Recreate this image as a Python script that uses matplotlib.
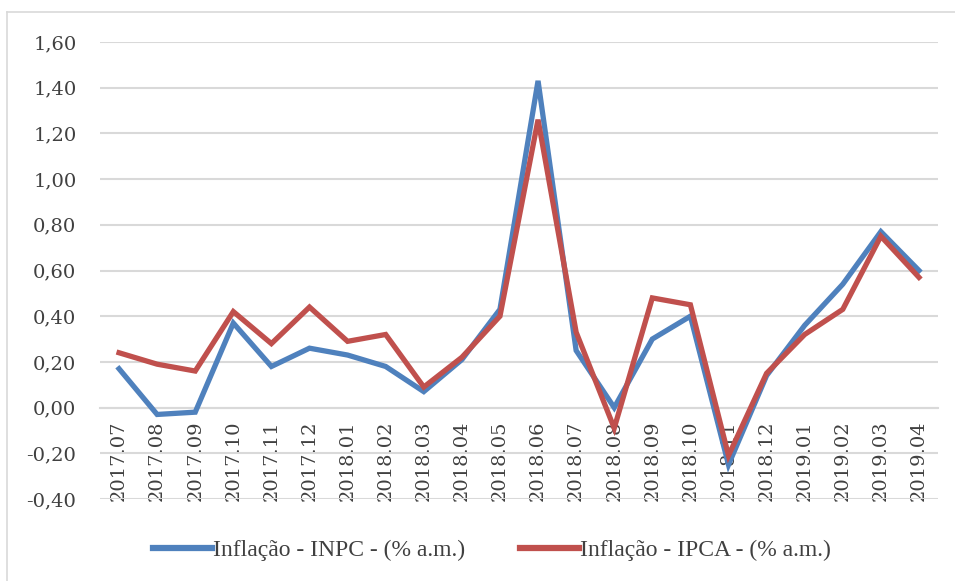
import numpy as np
import matplotlib.pyplot as plt
from matplotlib.lines import Line2D

meses = ['2017.07', '2017.08', '2017.09', '2017.10', '2017.11', '2017.12',
         '2018.01', '2018.02', '2018.03', '2018.04', '2018.05', '2018.06',
         '2018.07', '2018.08', '2018.09', '2018.10', '2018.11', '2018.12',
         '2019.01', '2019.02', '2019.03', '2019.04']
inpc = [0.17, -0.03, -0.02, 0.37, 0.18, 0.26, 0.23, 0.18, 0.07, 0.21, 0.43,
        1.43, 0.25, 0.00, 0.30, 0.40, -0.25, 0.14, 0.36, 0.54, 0.77, 0.60]
ipca = [0.24, 0.19, 0.16, 0.42, 0.28, 0.44, 0.29, 0.32, 0.09, 0.22, 0.40,
        1.26, 0.33, -0.09, 0.48, 0.45, -0.21, 0.15, 0.32, 0.43, 0.75, 0.57]
yticks = [-0.4, -0.2, 0.0, 0.2, 0.4, 0.6, 0.8, 1.0, 1.2, 1.4, 1.6]

plt.rcParams['font.family'] = ['DejaVu Serif']

fig = plt.figure(figsize=(9.55, 5.81), dpi=100)
ax = fig.add_axes([100 / 955, 1 - 499 / 581, 838 / 955, 457 / 581])

x = np.arange(len(meses))
ax.plot(x, inpc, color='#4F81BD', lw=3.8, label='Inflação - INPC - (% a.m.)',
        solid_joinstyle='miter', zorder=3)
ax.plot(x, ipca, color='#C0504D', lw=3.8, label='Inflação - IPCA - (% a.m.)',
        solid_joinstyle='miter', zorder=4)

ax.set_xlim(-0.5, len(meses) - 0.5)
ax.set_ylim(-0.4, 1.6)
ax.set_yticks(yticks)
ax.set_yticklabels([f'{v:.2f}'.replace('.', ',') for v in yticks],
                   fontsize=14, color='#404040')
ax.yaxis.grid(True, color='#D9D9D9', lw=1.5)
ax.set_axisbelow(True)

# eixo de categorias na linha do zero
ax.spines['bottom'].set_position(('data', 0))
ax.spines['bottom'].set_color('#D9D9D9')
ax.spines['bottom'].set_linewidth(1.5)
for s in ['left', 'right', 'top']:
    ax.spines[s].set_visible(False)
ax.set_xticks(x)
ax.set_xticklabels(meses, rotation=90, fontsize=14, color='#404040')
ax.tick_params(axis='x', length=0, pad=9)
ax.tick_params(axis='y', length=0, pad=17)

handles = [Line2D([], [], color='#4F81BD', lw=4.5),
           Line2D([], [], color='#C0504D', lw=4.5)]
fig.legend(handles, ['Inflação - INPC - (% a.m.)', 'Inflação - IPCA - (% a.m.)'],
           loc='center', bbox_to_anchor=(492 / 955, 1 - 550 / 581), ncol=2,
           frameon=False, prop={'family': 'Liberation Serif', 'size': 17},
           handlelength=2.5, handletextpad=0.05, columnspacing=2.3,
           labelcolor='#404040')

# borda do gráfico (topo e esquerda)
fig.add_artist(Line2D([7 / 955, 7 / 955], [0, 1 - 12 / 581],
                      transform=fig.transFigure, color='#D9D9D9', lw=1.2))
fig.add_artist(Line2D([7 / 955, 1], [1 - 12 / 581, 1 - 12 / 581],
                      transform=fig.transFigure, color='#D9D9D9', lw=1.2))

fig.savefig('out.png', dpi=100)
